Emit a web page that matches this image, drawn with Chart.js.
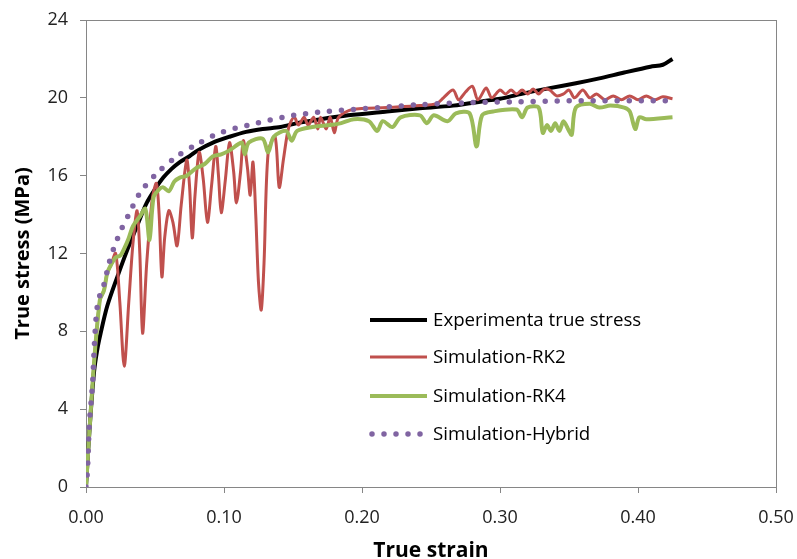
<!DOCTYPE html>
<html><head><meta charset="utf-8">
<script src="https://cdn.jsdelivr.net/npm/chart.js@4/dist/chart.umd.min.js"></script>
<style>html,body{margin:0;padding:0;background:#fff}#wrap{width:797px;height:559px}</style>
</head><body><div id="wrap"><canvas id="c" width="797" height="559"></canvas></div>
<script>
const seriesNames = ["Experimenta true stress","Simulation-RK2","Simulation-RK4","Simulation-Hybrid"];
const xTicks = [0,0.1,0.2,0.3,0.4,0.5];
const yTicks = [0,4,8,12,16,20,24];

const expStrain = [0,0.0015,0.0034,0.0058,0.008,0.0106,0.0154,0.0227,0.030,0.038,0.044,0.05,0.056,0.062,0.068,0.075,0.081,0.092,0.104,0.116,0.128,0.141,0.153,0.17,0.19,0.218,0.24,0.266,0.29,0.30,0.315,0.336,0.355,0.372,0.39,0.409,0.418,0.425];
const expStress = [0,1.8,3.8,5.9,7.0,7.9,9.3,10.8,12.2,13.6,14.6,15.3,15.9,16.35,16.7,17.0,17.3,17.7,18.0,18.25,18.4,18.5,18.7,18.9,19.1,19.3,19.45,19.6,19.85,19.95,20.2,20.5,20.75,21.0,21.3,21.6,21.7,22.0];

const rk2Strain = [0,0.005,0.010,0.013,0.0154,0.018,0.0215,0.0245,0.0277,0.031,0.034,0.037,0.039,0.041,0.044,0.048,0.051,0.053,0.055,0.057,0.060,0.063,0.066,0.069,0.073,0.075,0.077,0.079,0.082,0.085,0.088,0.091,0.094,0.096,0.098,0.101,0.104,0.107,0.109,0.112,0.114,0.117,0.119,0.121,0.123,0.125,0.127,0.129,0.132,0.137,0.140,0.143,0.146,0.148,0.151,0.154,0.158,0.161,0.165,0.168,0.170,0.174,0.177,0.180,0.183,0.193,0.218,0.242,0.254,0.259,0.266,0.270,0.275,0.280,0.284,0.290,0.294,0.300,0.304,0.308,0.312,0.316,0.320,0.324,0.328,0.332,0.336,0.341,0.346,0.350,0.354,0.360,0.365,0.370,0.376,0.382,0.388,0.394,0.400,0.406,0.412,0.418,0.425];
const rk2Stress = [0,5.6,9.6,10.1,11.0,11.4,12.0,9.5,6.2,9.5,12.5,14.2,12.0,7.9,11.5,14.8,15.6,14.0,10.8,12.8,14.2,13.6,12.4,14.5,16.8,15.5,12.8,15.0,17.2,15.8,13.6,15.5,17.5,16.0,14.1,15.8,17.7,16.2,14.6,16.2,17.8,16.4,15.0,16.7,14.0,10.5,9.1,11.5,17.2,18.0,15.4,16.8,18.2,18.7,19.0,18.6,19.0,18.6,19.0,18.4,19.0,18.4,19.0,18.2,19.0,19.4,19.5,19.6,19.7,20.0,20.4,19.9,20.3,20.6,19.9,20.5,20.0,20.4,20.2,20.4,20.2,20.4,20.2,20.45,20.2,20.45,20.4,20.1,20.2,20.4,20.0,20.4,20.0,20.2,19.9,20.1,19.9,20.1,19.9,20.1,19.9,20.05,19.95];

const rk4Strain = [0,0.005,0.010,0.013,0.0154,0.018,0.0215,0.025,0.028,0.031,0.034,0.039,0.043,0.046,0.049,0.053,0.056,0.060,0.064,0.068,0.073,0.080,0.086,0.092,0.098,0.104,0.110,0.113,0.115,0.118,0.128,0.132,0.136,0.145,0.149,0.153,0.164,0.177,0.185,0.194,0.205,0.211,0.215,0.222,0.228,0.242,0.247,0.252,0.262,0.268,0.278,0.283,0.287,0.295,0.312,0.316,0.320,0.328,0.331,0.334,0.337,0.340,0.343,0.346,0.350,0.352,0.355,0.365,0.372,0.380,0.390,0.394,0.398,0.401,0.406,0.425];
const rk4Stress = [0,5.6,9.6,10.1,11.0,11.4,11.8,11.9,12.3,12.8,13.4,13.9,14.3,12.7,14.9,15.3,15.4,15.2,15.7,15.9,16.0,16.4,16.6,17.0,17.1,17.3,17.6,17.7,17.1,17.7,17.9,17.2,18.0,18.3,17.8,18.3,18.5,18.6,18.7,18.9,18.8,18.3,18.8,18.5,19.0,19.1,18.7,19.1,18.8,19.2,19.2,17.5,19.1,19.3,19.4,19.0,19.5,19.5,18.2,18.6,18.3,18.7,18.3,18.8,18.3,18.1,19.5,19.7,19.5,19.6,19.5,19.3,18.4,19.0,18.9,19.0];

const hybStrain = [0,0.001,0.002,0.003,0.004,0.005,0.006,0.0077,0.0094,0.013,0.0167,0.0203,0.026,0.031,0.039,0.051,0.066,0.080,0.097,0.124,0.150,0.175,0.213,0.242,0.278,0.314,0.350,0.425];
const hybStress = [0,0.8,2.6,3.8,4.6,5.6,7.2,9.0,9.7,10.4,11.5,12.3,13.3,14.0,15.1,16.1,17.0,17.6,18.2,18.7,19.1,19.3,19.5,19.65,19.75,19.8,19.85,19.85];

const colors = ["#000000","#C0504D","#9BBB59","#8064A2"];
const pts = (xs, ys) => xs.map((x, i) => ({x: x, y: ys[i]}));

const legendPlugin = {
  id: 'customLegend',
  afterDraw(chart) {
    const ctx = chart.ctx, a = chart.chartArea;
    const x0 = a.left + 284, x1 = a.left + 341, tx = a.left + 347;
    const rows = [a.top + 300, a.top + 337, a.top + 376, a.top + 414];
    ctx.save();
    ctx.font = '18.7px "Open Sans"';
    ctx.textBaseline = 'middle';
    ctx.fillStyle = '#000';
    chart.data.datasets.forEach((ds, i) => {
      const y = rows[i];
      ctx.strokeStyle = ds.borderColor;
      ctx.lineWidth = ds.borderWidth;
      ctx.lineCap = 'round';
      ctx.setLineDash(ds.borderDash || []);
      ctx.beginPath();
      if (ds.borderDash) { ctx.moveTo(x0 + 2, y); ctx.lineTo(x1 - 6, y); }
      else { ctx.lineCap = 'butt'; ctx.moveTo(x0, y); ctx.lineTo(x1, y); }
      ctx.stroke();
      ctx.setLineDash([]);
      ctx.fillText(ds.label, tx, y + 1);
    });
    ctx.restore();
  }
};
const framePlugin = {
  id: 'frame',
  beforeDatasetsDraw(chart) {
    const ctx = chart.ctx, a = chart.chartArea;
    ctx.save();
    ctx.strokeStyle = '#868686';
    ctx.lineWidth = 1;
    ctx.strokeRect(Math.round(a.left) + 0.5, Math.round(a.top) + 0.5, Math.round(a.right - a.left), Math.round(a.bottom - a.top));
    ctx.restore();
  }
};

new Chart(document.getElementById('c'), {
  type: 'scatter',
  data: {
    datasets: [
      {label: seriesNames[0], data: pts(expStrain, expStress), borderColor: colors[0], backgroundColor: colors[0], borderWidth: 4, showLine: true, pointRadius: 0, tension: 0.3, order: 4},
      {label: seriesNames[1], data: pts(rk2Strain, rk2Stress), borderColor: colors[1], backgroundColor: colors[1], borderWidth: 3, showLine: true, pointRadius: 0, tension: 0.3, order: 3},
      {label: seriesNames[2], data: pts(rk4Strain, rk4Stress), borderColor: colors[2], backgroundColor: colors[2], borderWidth: 4, showLine: true, pointRadius: 0, tension: 0.3, order: 2},
      {label: seriesNames[3], data: pts(hybStrain, hybStress), borderColor: colors[3], backgroundColor: colors[3], borderWidth: 5.5, borderDash: [0, 12], borderCapStyle: 'round', showLine: true, pointRadius: 0, tension: 0.3, order: 1}
    ]
  },
  options: {
    responsive: false,
    animation: false,
    layout: {padding: {left: 0, top: 20, right: 21, bottom: 0}},
    plugins: {legend: {display: false}, tooltip: {enabled: false}},
    scales: {
      x: {
        type: 'linear', min: xTicks[0], max: xTicks[xTicks.length - 1],
        afterBuildTicks: s => { s.ticks = xTicks.map(v => ({value: v})); },
        afterFit: s => { s.height = 72; s.paddingLeft = 0; s.paddingRight = 0; },
        border: {color: '#868686', width: 1},
        grid: {drawOnChartArea: false, color: '#868686', tickLength: 6},
        ticks: {callback: v => v.toFixed(2), color: '#222', font: {family: 'Open Sans', size: 18}, padding: 14, maxRotation: 0},
        title: {display: true, text: 'True strain', color: '#000', font: {family: 'Open Sans', size: 21, weight: 'bold'}, padding: {top: 0, bottom: -5}}
      },
      y: {
        type: 'linear', min: yTicks[0], max: yTicks[yTicks.length - 1],
        afterBuildTicks: s => { s.ticks = yTicks.map(v => ({value: v})); },
        afterFit: s => { s.width = 86; s.paddingTop = 0; s.paddingBottom = 0; },
        border: {color: '#868686', width: 1},
        grid: {drawOnChartArea: false, color: '#868686', tickLength: 6},
        ticks: {color: '#222', font: {family: 'Open Sans', size: 18}, padding: 12},
        title: {display: true, text: 'True stress (MPa)', color: '#000', font: {family: 'Open Sans', size: 20, weight: 'bold'}, padding: {top: 11, bottom: 0}}
      }
    }
  },
  plugins: [framePlugin, legendPlugin]
});
</script></body></html>
